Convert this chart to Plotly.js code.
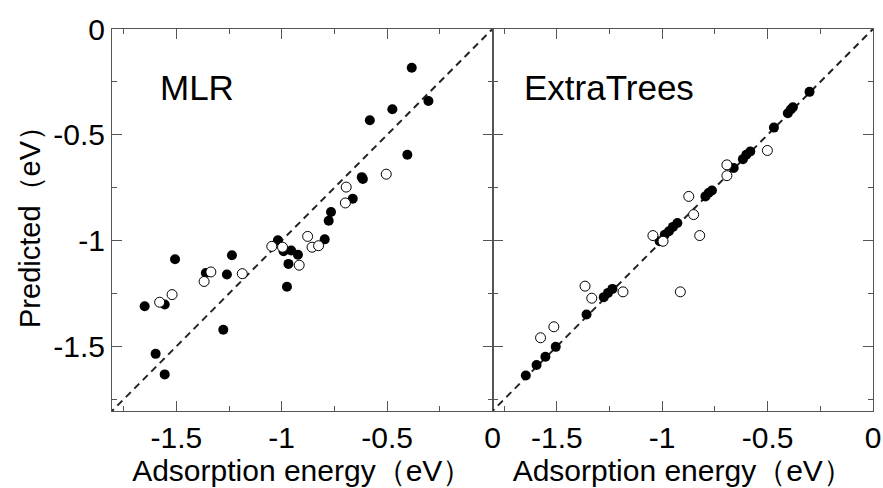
<!DOCTYPE html>
<html>
<head>
<meta charset="utf-8">
<script src="https://cdn.plot.ly/plotly-3.0.1.min.js"></script>
<style>html,body{margin:0;padding:0;background:#fff;}#chart{width:883px;height:488px;}</style>
</head>
<body>
<div id="chart"></div>
<script>
// ---- Data ----
// MLR panel: filled circles
const mlrFilledActual = [-0.383, -0.304, -0.475, -0.582, -0.404, -0.620, -0.615, -0.663, -0.766, -0.777, -0.796, -1.018, -0.991, -0.955, -0.923, -0.968, -0.975, -1.236, -1.260, -1.360, -1.506, -1.555, -1.650, -1.277, -1.598, -1.555];
const mlrFilledPred   = [-0.183, -0.340, -0.379, -0.431, -0.594, -0.700, -0.709, -0.802, -0.865, -0.906, -0.994, -0.998, -1.050, -1.047, -1.067, -1.110, -1.218, -1.069, -1.160, -1.153, -1.088, -1.302, -1.310, -1.421, -1.535, -1.632];
// MLR panel: open circles
const mlrOpenActual = [-0.504, -0.694, -0.698, -0.877, -0.856, -0.825, -0.917, -0.996, -1.047, -1.187, -1.336, -1.368, -1.520, -1.579];
const mlrOpenPred   = [-0.686, -0.747, -0.822, -0.980, -1.031, -1.024, -1.116, -1.031, -1.027, -1.156, -1.148, -1.193, -1.255, -1.291];
// ExtraTrees panel: filled circles
const etFilledActual = [-0.301, -0.380, -0.390, -0.404, -0.470, -0.582, -0.601, -0.617, -0.661, -0.764, -0.780, -0.795, -0.928, -0.949, -0.968, -0.988, -1.012, -1.236, -1.257, -1.277, -1.359, -1.505, -1.554, -1.596, -1.647];
const etFilledPred   = [-0.297, -0.370, -0.380, -0.398, -0.466, -0.579, -0.594, -0.615, -0.657, -0.763, -0.775, -0.791, -0.917, -0.935, -0.956, -0.972, -1.003, -1.228, -1.247, -1.267, -1.349, -1.502, -1.549, -1.588, -1.637];
// ExtraTrees panel: open circles
const etOpenActual = [-0.501, -0.693, -0.693, -0.874, -0.851, -0.822, -1.044, -0.996, -0.914, -1.186, -1.366, -1.334, -1.514, -1.577];
const etOpenPred   = [-0.574, -0.642, -0.693, -0.791, -0.877, -0.976, -0.976, -1.003, -1.242, -1.242, -1.215, -1.272, -1.407, -1.459];
// y = x reference line end points
const diagLine = [-1.9, 0.1];
// Text
const panelLabels = ["MLR", "ExtraTrees"];
const xTitle = "Adsorption energy（eV）";
const yTitle = "Predicted（eV）";
const tickVals = [-1.5, -1, -0.5, 0];
const tickText = ["-1.5", "-1", "-0.5", "0"];

const FONT = "Liberation Sans, Arial, Helvetica, sans-serif";
const AXC = "#555";

const filledMarker = {size: 10, color: "#000", line: {width: 0}};
const openMarker = {size: 10, color: "#fff", line: {width: 1, color: "#000"}};
const diagStyle = {color: "#222", width: 2, dash: "7px,5px"};

const traces = [
  {x: diagLine, y: diagLine, mode: "lines", line: diagStyle, xaxis: "x", yaxis: "y", hoverinfo: "skip"},
  {x: mlrFilledActual, y: mlrFilledPred, mode: "markers", marker: filledMarker, xaxis: "x", yaxis: "y"},
  {x: mlrOpenActual, y: mlrOpenPred, mode: "markers", marker: openMarker, xaxis: "x", yaxis: "y"},
  {x: diagLine, y: diagLine, mode: "lines", line: diagStyle, xaxis: "x2", yaxis: "y2", hoverinfo: "skip"},
  {x: etFilledActual, y: etFilledPred, mode: "markers", marker: filledMarker, xaxis: "x2", yaxis: "y2"},
  {x: etOpenActual, y: etOpenPred, mode: "markers", marker: openMarker, xaxis: "x2", yaxis: "y2"}
];

const RANGE = [-1.805, 0];
function axisBase(extra) {
  return Object.assign({
    range: RANGE, autorange: false,
    showgrid: false, zeroline: false,
    showline: true, linecolor: AXC, linewidth: 1,
    mirror: "allticks",
    ticks: "inside", ticklen: 10, tickwidth: 1, tickcolor: AXC,
    tickmode: "array", tickvals: tickVals, ticktext: tickText,
    minor: {tickmode: "linear", tick0: 0, dtick: 0.25, ticks: "inside", ticklen: 5, tickcolor: AXC, tickwidth: 1, showgrid: false},
    tickfont: {family: FONT, size: 30, color: "#000"},
    fixedrange: true
  }, extra);
}

const layout = {
  width: 883, height: 488,
  margin: {l: 112, r: 10, t: 29, b: 77, pad: 0},
  paper_bgcolor: "#fff", plot_bgcolor: "#fff",
  showlegend: false,
  font: {family: FONT, color: "#000"},
  xaxis: axisBase({domain: [0, 0.5], anchor: "y",
    title: {text: xTitle, font: {family: FONT, size: 30, color: "#000"}, standoff: 2}}),
  yaxis: axisBase({domain: [0, 1], anchor: "x",
    title: {text: yTitle, font: {family: FONT, size: 29, color: "#000"}, standoff: 4}}),
  xaxis2: axisBase({domain: [0.5, 1], anchor: "y2",
    title: {text: xTitle, font: {family: FONT, size: 30, color: "#000"}, standoff: 2}}),
  yaxis2: axisBase({domain: [0, 1], anchor: "x2", showticklabels: false}),
  annotations: [
    {xref: "x", yref: "y", x: -1.585, y: -0.275, text: panelLabels[0], showarrow: false,
     xanchor: "left", yanchor: "middle", font: {family: FONT, size: 35, color: "#000"}},
    {xref: "x2", yref: "y2", x: -1.665, y: -0.275, text: panelLabels[1], showarrow: false,
     xanchor: "left", yanchor: "middle", font: {family: FONT, size: 35, color: "#000"}}
  ]
};

Plotly.newPlot("chart", traces, layout, {staticPlot: true, displayModeBar: false});
</script>
</body>
</html>
